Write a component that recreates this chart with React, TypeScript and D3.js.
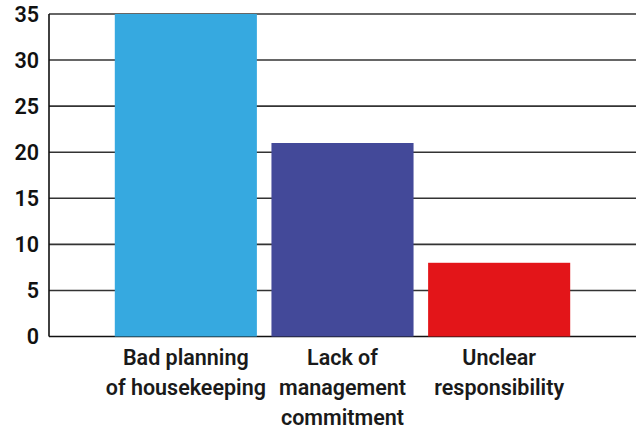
import React from "react";
import * as d3 from "d3";

const categories: string[][] = [
  ["Bad planning", "of housekeeping"],
  ["Lack of", "management", "commitment"],
  ["Unclear", "responsibility"],
];
const values: number[] = [35, 21, 8];
const colors: string[] = ["#36A9E0", "#434999", "#E31519"];
const yTicks: number[] = [0, 5, 10, 15, 20, 25, 30, 35];

const W = 640;
const H = 432;
const left = 49;
const right = 636;
const top = 14;
const bottom = 336.5;

export default function App() {
  const x = d3
    .scaleBand<number>()
    .domain(values.map((_, i) => i))
    .range([left, right])
    .paddingInner(0.093)
    .paddingOuter(0.42);
  const y = d3.scaleLinear().domain([0, 35]).range([bottom, top]);
  const font = "Roboto, 'Noto Sans', sans-serif";

  return (
    <svg
      width={W}
      height={H}
      style={{ position: "absolute", left: 0, top: 0, background: "#fff" }}
    >
      {yTicks.map((t) => (
        <g key={t}>
          <line
            x1={left}
            x2={right}
            y1={y(t)}
            y2={y(t)}
            stroke={t === 0 ? "#111" : "#333"}
            strokeWidth={1.6}
          />
          <text
            x={39}
            y={y(t)}
            dy="0.36em"
            textAnchor="end"
            fontFamily={font}
            fontWeight={600}
            fontSize={21.5}
            fill="#111"
          >
            {t}
          </text>
        </g>
      ))}
      <line x1={left} x2={left} y1={top} y2={bottom} stroke="#111" strokeWidth={1.6} />
      {values.map((v, i) => (
        <rect
          key={i}
          x={x(i)}
          y={y(v)}
          width={x.bandwidth()}
          height={bottom - y(v)}
          fill={colors[i]}
        />
      ))}
      {categories.map((lines, i) => (
        <text
          key={i}
          x={(x(i) as number) + x.bandwidth() / 2}
          textAnchor="middle"
          fontFamily={font}
          fontWeight={600}
          fontSize={21.5}
          fill="#1a1a1a"
        >
          {lines.map((l, j) => (
            <tspan key={j} x={(x(i) as number) + x.bandwidth() / 2} y={365 + j * 30}>
              {l}
            </tspan>
          ))}
        </text>
      ))}
    </svg>
  );
}
